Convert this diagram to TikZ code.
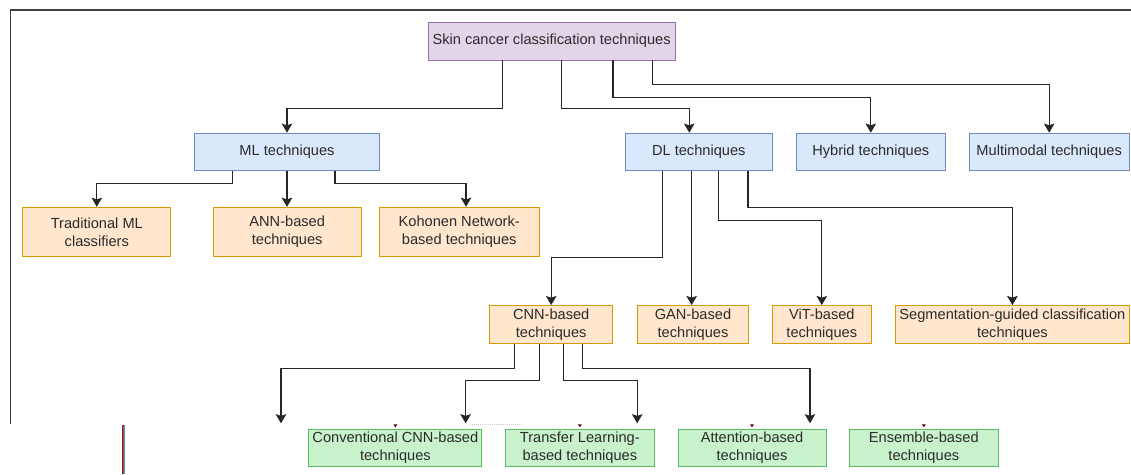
\documentclass[tikz,border=0pt]{standalone}
\usepackage{fontspec}
\setmainfont{Liberation Sans}
\usetikzlibrary{arrows.meta}

\definecolor{rootfill}{HTML}{E1D5E7}
\definecolor{rootline}{HTML}{9673A6}
\definecolor{mainfill}{HTML}{DAE8FC}
\definecolor{mainline}{HTML}{6C8EBF}
\definecolor{subfill}{HTML}{FFE6CC}
\definecolor{subline}{HTML}{D79B00}
\definecolor{leaffill}{HTML}{C8F2CB}
\definecolor{leafline}{HTML}{5BBF61}
\definecolor{txtgray}{HTML}{2B2B2B}

\tikzset{
  box/.style={draw, line width=0.7pt, text=txtgray, align=center, inner sep=1pt,
    minimum height=0.94cm, font=\fontsize{10.4}{13}\selectfont},
  rootbox/.style={box, draw=rootline, fill=rootfill},
  mainbox/.style={box, draw=mainline, fill=mainfill},
  subbox/.style={box, draw=subline, fill=subfill},
  leafbox/.style={box, draw=leafline, fill=leaffill},
  tall/.style={minimum height=1.235cm},
  link/.style={-{Stealth[length=6.5pt,width=7.5pt,inset=1.2pt]}, line width=0.8pt, black!85}
}

\begin{document}
\begin{tikzpicture}
\useasboundingbox (0,0) rectangle (28.275,11.85);

% frame
\draw[line width=0.8pt, black!75] (0.2625,1.25) -- (0.2625,11.6) -- (28.275,11.6);

\node[rootbox, minimum width=6.17cm] (root) at (13.79,10.82) {Skin cancer classification techniques};

\node[mainbox, minimum width=4.615cm] (ml) at (7.175,8.05) {ML techniques};
\node[mainbox, minimum width=3.69cm] (dl) at (17.47,8.05) {DL techniques};
\node[mainbox, minimum width=3.71cm] (hyb) at (21.77,8.05) {Hybrid techniques};
\node[mainbox, minimum width=4.01cm] (mm) at (26.23,8.05) {Multimodal techniques};

\node[subbox, tall, minimum width=3.70cm] (trad) at (2.42,6.05) {Traditional ML\\classifiers};
\node[subbox, tall, minimum width=3.69cm] (ann) at (7.18,6.05) {ANN-based\\techniques};
\node[subbox, tall, minimum width=4.01cm] (koh) at (11.48,6.05) {Kohonen Network-\\based techniques};

\node[subbox, minimum width=3.07cm] (cnn) at (13.78,3.74) {CNN-based\\techniques};
\node[subbox, minimum width=2.785cm] (gan) at (17.325,3.74) {GAN-based\\techniques};
\node[subbox, minimum width=2.475cm] (vit) at (20.545,3.74) {ViT-based\\techniques};
\node[subbox, minimum width=5.845cm] (seg) at (25.31,3.74) {Segmentation-guided classification\\techniques};

\node[leafbox, minimum width=4.32cm] (conv) at (9.884,0.654) {Conventional CNN-based\\techniques};
\node[leafbox, minimum width=3.71cm] (trans) at (14.496,0.654) {Transfer Learning-\\based techniques};
\node[leafbox, minimum width=3.70cm] (att) at (18.8,0.654) {Attention-based\\techniques};
\node[leafbox, minimum width=3.71cm] (ens) at (23.096,0.654) {Ensemble-based\\techniques};

% loose arrow ends under CNN-based
\coordinate (end-a) at (7.025,1.2675);
\coordinate (end-b) at (11.64,1.2675);
\coordinate (end-c) at (15.93,1.2675);
\coordinate (end-d) at (20.25,1.2675);

\draw[link] ([xshift=-1.234cm]root.south) -- ++(0,-1.21) -| (ml.north);
\draw[link] ([xshift=0.241cm]root.south) -- ++(0,-1.21) -| ([xshift=-0.239cm]dl.north);
\draw[link] ([xshift=1.534cm]root.south) -- ++(0,-0.918) -| (hyb.north);
\draw[link] ([xshift=2.516cm]root.south) -- ++(0,-0.608) -| (mm.north);

\draw[link] ([xshift=-1.3675cm]ml.south) -- ++(0,-0.3) -| (trad.north);
\draw[link] (ml.south) -- (ml.south |- ann.north);
\draw[link] ([xshift=1.2cm]ml.south) -- ++(0,-0.3) -| ([xshift=0.171cm]koh.north);

\draw[link] ([xshift=-0.914cm]dl.south) -- ++(0,-2.15) -| (cnn.north);
\draw[link] ([xshift=-0.179cm]dl.south) -- ([xshift=-0.179cm]dl.south |- gan.north);
\draw[link] ([xshift=0.496cm]dl.south) -- ++(0,-1.2325) -| (vit.north);
\draw[link] ([xshift=1.229cm]dl.south) -- ++(0,-0.915) -| (seg.north);

\draw[link] ([xshift=-0.909cm]cnn.south) -- ++(0,-0.61) -| (end-a);
\draw[link] ([xshift=-0.301cm]cnn.south) -- ++(0,-0.9175) -| (end-b);
\draw[link] ([xshift=0.316cm]cnn.south) -- ++(0,-0.9175) -| (end-c);
\draw[link] ([xshift=0.774cm]cnn.south) -- ++(0,-0.61) -| (end-d);

% small marks over the green boxes
\foreach \leaf in {conv,trans,att,ens}
  \fill[red!35!black] ([yshift=0.03cm]\leaf.north) -- ++(-0.05,0.075) -- ++(0.1,0) -- cycle;

\draw[gray!40, densely dotted, line width=0.4pt] (11.75,1.25) -- (13.075,1.25);

\draw[red!80!black, line width=0.4pt] (3.06,0) -- (3.06,1.225);
\draw[black!60, line width=0.3pt] (3.085,0) -- (3.085,1.225);
\draw[teal!70, line width=0.4pt] (3.11,0) -- (3.11,1.225);

\end{tikzpicture}
\end{document}
